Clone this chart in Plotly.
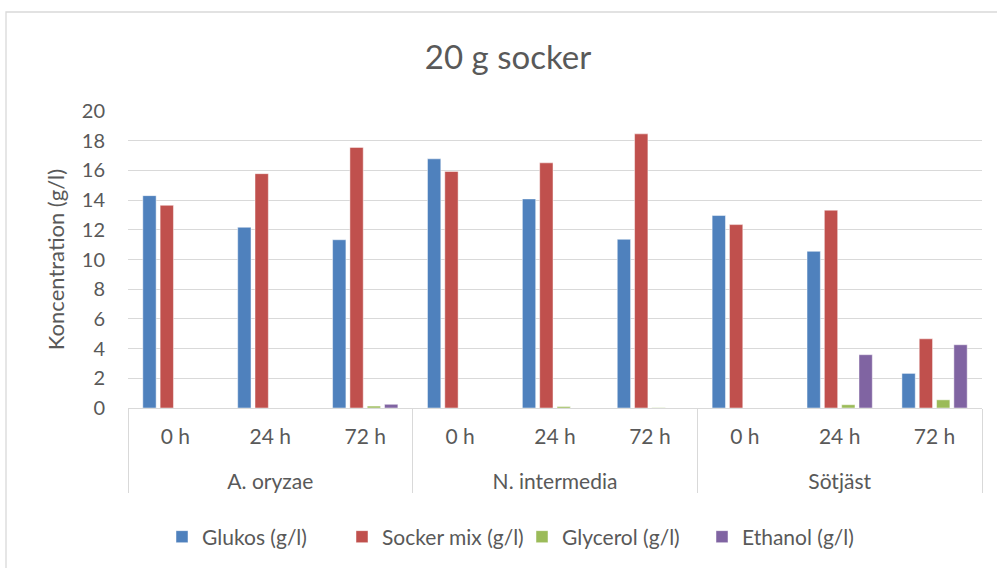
import plotly.graph_objects as go

organisms = ["A. oryzae"] * 3 + ["N. intermedia"] * 3 + ["Sötjäst"] * 3
times = ["0 h", "24 h", "72 h"] * 3

glukos = [14.3, 12.17, 11.33, 16.78, 14.08, 11.36, 12.96, 10.55, 2.33]
socker = [13.65, 15.78, 17.55, 15.93, 16.51, 18.46, 12.35, 13.32, 4.66]
glycerol = [0, 0, 0.13, 0, 0.1, 0.02, 0, 0.22, 0.55]
ethanol = [0, 0, 0.25, 0, 0, 0, 0, 3.59, 4.26]

series = [
    ("Glukos (g/l)", glukos, "#4F81BD"),
    ("Socker mix (g/l)", socker, "#C0504D"),
    ("Glycerol (g/l)", glycerol, "#9BBB59"),
    ("Ethanol (g/l)", ethanol, "#8064A2"),
]

FONT = "Lato, Open Sans, sans-serif"
GREY = "#595959"
W, H = 997, 568
L, R, T, B = 128, 15, 111, 160
PW, PH = W - L - R, H - T - B

# outer level labels pushed one line down (layout only)
outer = ["<br>" + o for o in organisms]

fig = go.Figure()
for name, vals, col in series:
    fig.add_trace(go.Bar(
        name=name, x=[outer, times], y=vals,
        marker=dict(color=col, line=dict(color="rgba(255,255,255,0.6)", width=0.8)),
    ))

fig.update_layout(
    width=W, height=H,
    paper_bgcolor="white", plot_bgcolor="white",
    margin=dict(l=L, r=R, t=T, b=B, autoexpand=False),
    barmode="group", bargap=0.27, bargroupgap=0.23,
    font=dict(family=FONT, color=GREY, size=20),
    title=dict(text="20 g socker", x=508 / W, xanchor="center", y=1 - 57 / H, yanchor="middle",
               font=dict(size=33, color=GREY, family=FONT)),
    legend=dict(orientation="h", x=(522 - L) / PW, xanchor="center", y=(T + PH - 537) / PH,
                yanchor="middle", font=dict(size=21, color=GREY), traceorder="normal",
                entrywidth=135, entrywidthmode="pixels"),
    yaxis=dict(range=[0, 20], dtick=2, showgrid=True, gridcolor="#D9D9D9", gridwidth=1.3,
               zeroline=False, showline=False, ticks="", automargin=False,
               tickfont=dict(size=20, color=GREY), ticklabelstandoff=22,
               title=dict(text="Koncentration (g/l)", font=dict(size=22, color=GREY), standoff=11)),
    xaxis=dict(type="multicategory", showline=True, linecolor="#D9D9D9", linewidth=1.3,
               showdividers=True, dividercolor="#D9D9D9", dividerwidth=1.3, automargin=False,
               tickfont=dict(size=21, color=GREY), ticks="", ticklabelstandoff=10),
    shapes=[dict(type="rect", xref="paper", yref="paper",
                 x0=(6 - L) / PW, x1=(W + 5 - L) / PW, y0=(T + PH - H - 5) / PH, y1=(T + PH - 12) / PH,
                 line=dict(color="#D9D9D9", width=1.3), layer="below")],
)

fig.write_html("out.html", config={"displayModeBar": False},
               post_script="document.body.style.margin='0px';")
